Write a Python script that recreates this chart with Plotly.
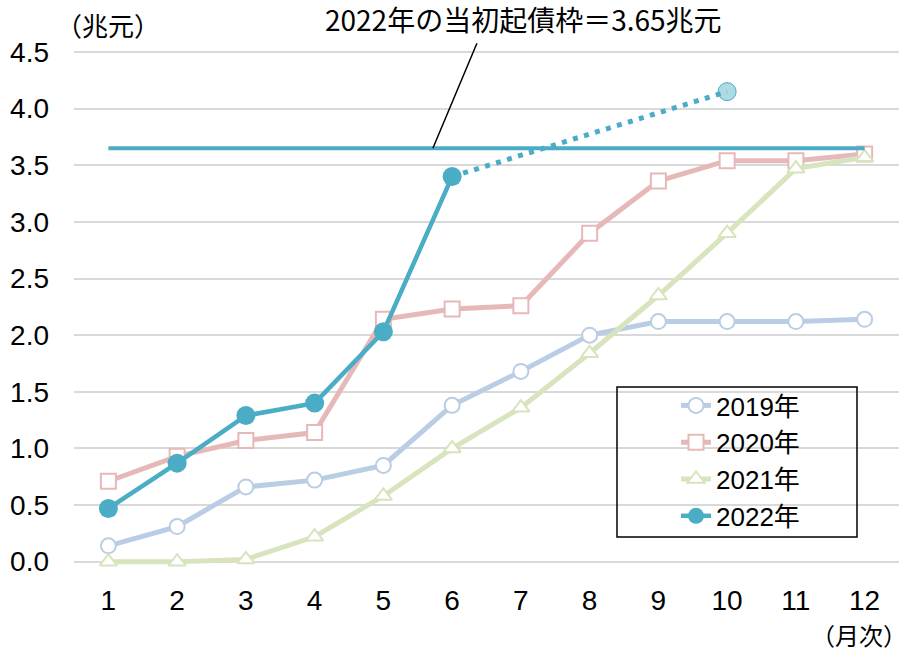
import plotly.graph_objects as go

months = list(range(1, 13))
y2019 = [0.14, 0.31, 0.66, 0.72, 0.85, 1.38, 1.68, 2.00, 2.12, 2.12, 2.12, 2.14]
y2020 = [0.71, 0.93, 1.07, 1.14, 2.14, 2.23, 2.26, 2.90, 3.36, 3.54, 3.54, 3.60]
y2021 = [0.00, 0.00, 0.02, 0.22, 0.58, 1.00, 1.36, 1.84, 2.35, 2.90, 3.47, 3.57]
y2022 = [0.47, 0.87, 1.29, 1.40, 2.03, 3.40]
proj_x = [6, 10]
proj_y = [3.40, 4.15]
quota = 3.65
y_ticks = [0, 0.5, 1.0, 1.5, 2.0, 2.5, 3.0, 3.5, 4.0, 4.5]

TXT = "Liberation Sans, Arial, Noto Sans CJK JP"
CJK = "Noto Sans CJK JP"
BLUE = "#4bacc6"

fig = go.Figure()


def add_series(name, x, y, color, symbol, size, width, filled=False):
    fig.add_trace(go.Scatter(
        x=x, y=y, name=name, mode="lines+markers", legendgroup=name,
        line={"color": color, "width": width},
        marker={"symbol": symbol, "size": size,
                "color": color if filled else "white",
                "line": {"color": color, "width": 0 if filled else 2}},
    ))


add_series("2019年", months, y2019, "#b9cde5", "circle", 15, 5)
add_series("2020年", months, y2020, "#e6b9b8", "square", 15, 5)
add_series("2021年", months, y2021, "#d7e4bd", "triangle-up", 15, 5)

# projection to year-end (dotted)
fig.add_trace(go.Scatter(
    x=proj_x, y=proj_y, mode="lines", showlegend=False,
    line={"color": BLUE, "width": 5, "dash": "5px,6.5px"},
))
fig.add_trace(go.Scatter(
    x=proj_x[-1:], y=proj_y[-1:], mode="markers", showlegend=False,
    marker={"size": 18, "color": "rgba(75,172,198,0.45)",
            "line": {"color": BLUE, "width": 1}},
))
add_series("2022年", months[:len(y2022)], y2022, BLUE, "circle", 19, 4.5, filled=True)

# initial quota line
fig.add_trace(go.Scatter(
    x=[months[0], months[-1]], y=[quota, quota], mode="lines", showlegend=False,
    line={"color": BLUE, "width": 4},
))

fig.add_annotation(
    x=5.72, y=quota, ax=6.37, ay=4.59, axref="x", ayref="y", text="",
    showarrow=True, arrowhead=0, arrowwidth=1.5, arrowcolor="black", standoff=0,
)
fig.add_annotation(
    x=7.04, y=4.79, text="2022年の当初起債枠＝3.65兆元", showarrow=False,
    xanchor="center", yanchor="middle",
    font={"family": CJK, "size": 28, "color": "black"},
)
fig.add_annotation(
    x=(108 - 74) / 825, y=(573 - 25) / 555, xref="paper", yref="paper",
    text="（兆元）", showarrow=False, xanchor="center", yanchor="middle",
    font={"family": CJK, "size": 26, "color": "black"},
)
fig.add_annotation(
    x=(909 - 74) / 825, y=(573 - 634) / 555, xref="paper", yref="paper",
    text="（月次）", showarrow=False, xanchor="right", yanchor="middle",
    font={"family": CJK, "size": 24, "color": "black"},
)

# legend frame
fig.add_shape(
    type="rect", xref="paper", yref="paper",
    x0=(617 - 74) / 825, x1=(857 - 74) / 825,
    y0=(573 - 537) / 555, y1=(573 - 387) / 555,
    line={"color": "black", "width": 1.5}, fillcolor="rgba(0,0,0,0)",
)

fig.update_layout(
    width=911, height=655,
    margin={"l": 74, "r": 12, "t": 18, "b": 82},
    paper_bgcolor="white", plot_bgcolor="white",
    font={"family": TXT, "size": 28, "color": "black"},
    legend={
        "x": (676 - 74) / 825, "y": (573 - 382) / 555,
        "xanchor": "left", "yanchor": "top",
        "bgcolor": "rgba(0,0,0,0)", "borderwidth": 0,
        "font": {"family": TXT, "size": 26},
        "tracegroupgap": 0, "traceorder": "normal",
    },
    xaxis={
        "range": [0.5, 12.5], "tickvals": months, "showgrid": False,
        "zeroline": False, "showline": False, "ticklabelstandoff": 8,
        "automargin": False,
    },
    yaxis={
        "range": [-0.1, 4.8], "tickvals": y_ticks, "tickformat": ".1f",
        "showgrid": True, "gridcolor": "#d9d9d9", "gridwidth": 1.5,
        "zeroline": False, "showline": False, "ticklabelstandoff": 24,
        "automargin": False,
    },
)

# drop the default 8px body margin so the figure fills the window exactly
fig.write_html(
    "out.html",
    config={"displayModeBar": False},
    post_script="document.body.style.margin = '0';",
)
